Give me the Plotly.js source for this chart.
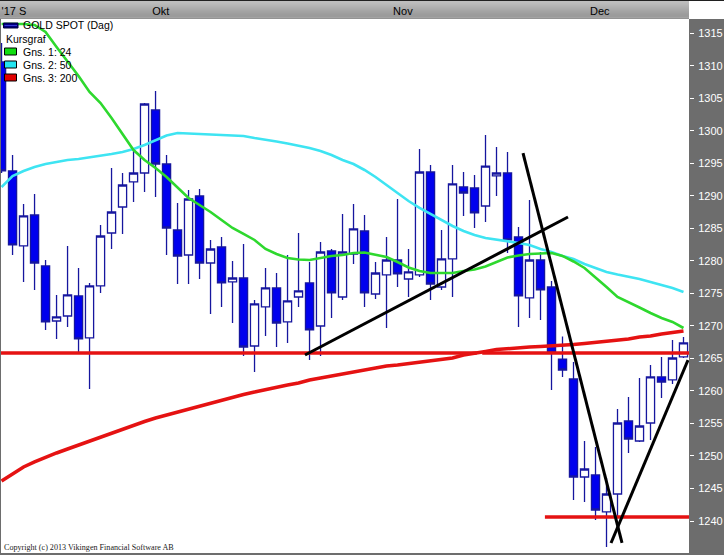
<!DOCTYPE html>
<html><head><meta charset="utf-8">
<script src="https://cdn.plot.ly/plotly-3.0.1.min.js"></script>
<style>html,body{margin:0;padding:0;background:#fff;overflow:hidden}#chart{width:724px;height:555px}</style>
</head><body><div id="chart"></div>
<script>
// ---- data ----
const openP  = [1310.59,1293.83,1282.30,1287.06,1279.22,1270.76,1271.53,1274.61,1268.15,1276.15,1284.29,1288.29,1292.14,1293.52,1303.21,1294.90,1284.75,1280.91,1289.98,1279.68,1282.14,1276.76,1277.37,1266.91,1272.92,1275.84,1270.61,1274.45,1276.61,1269.99,1281.52,1274.45,1281.06,1284.60,1274.91,1277.84,1280.14,1277.22,1277.84,1293.67,1275.99,1280.30,1291.37,1291.21,1288.44,1293.06,1293.52,1283.68,1274.30,1280.14,1275.99,1264.91,1261.84,1246.77,1247.08,1241.39,1244.15,1255.38,1252.30,1255.07,1262.15,1261.69,1265.23];
const highP  = [1313.51,1296.28,1288.75,1290.29,1280.14,1274.76,1282.30,1278.91,1276.61,1285.52,1294.29,1293.52,1297.21,1304.28,1306.13,1296.28,1288.91,1290.90,1291.06,1283.22,1283.68,1279.99,1282.60,1273.99,1278.91,1278.14,1280.91,1284.29,1279.83,1282.91,1281.83,1287.21,1288.75,1287.06,1279.83,1283.68,1289.52,1281.83,1297.21,1294.75,1284.75,1294.75,1293.67,1293.21,1299.36,1297.51,1296.74,1285.21,1289.37,1281.37,1276.91,1268.38,1264.45,1252.30,1251.38,1246.61,1257.22,1259.07,1262.00,1264.00,1265.23,1267.84,1268.30];
const lowP   = [1293.50,1280.91,1276.76,1275.53,1269.38,1268.00,1269.84,1266.00,1260.30,1275.07,1281.83,1284.14,1289.06,1290.60,1289.83,1280.91,1276.45,1276.45,1277.22,1271.84,1272.92,1270.45,1265.38,1262.91,1268.46,1266.76,1267.37,1272.92,1264.76,1265.38,1271.22,1273.99,1279.53,1272.92,1274.14,1269.69,1275.99,1274.45,1277.53,1273.99,1275.53,1274.45,1286.91,1285.06,1285.98,1289.98,1281.22,1269.84,1271.22,1270.91,1260.15,1262.15,1243.23,1242.92,1240.16,1236.00,1240.62,1250.46,1252.15,1252.46,1258.92,1261.07,1265.07];
const closeP = [1293.83,1282.45,1286.91,1279.68,1270.61,1271.38,1274.76,1268.00,1276.15,1283.83,1287.52,1291.67,1293.52,1304.13,1294.90,1285.06,1280.75,1289.52,1279.68,1281.83,1276.61,1277.37,1266.76,1273.38,1275.84,1270.45,1273.84,1275.38,1269.38,1281.37,1275.07,1281.37,1284.91,1275.07,1278.14,1280.14,1277.99,1278.30,1293.67,1276.45,1280.30,1291.83,1290.44,1287.37,1294.59,1293.52,1283.22,1274.61,1280.14,1275.53,1265.84,1263.22,1246.77,1248.00,1241.69,1244.15,1255.07,1252.61,1254.61,1262.15,1261.38,1265.07,1267.38];
const ma24   = [1316.43,1316.43,1316.43,1316.28,1315.20,1312.89,1310.74,1308.43,1305.97,1304.28,1301.97,1299.51,1297.05,1295.51,1294.28,1292.90,1291.36,1289.67,1288.60,1287.52,1286.29,1285.06,1284.14,1283.22,1281.83,1281.06,1280.45,1280.22,1280.14,1280.45,1280.76,1280.91,1281.22,1281.29,1280.98,1280.60,1279.83,1278.98,1278.45,1278.14,1278.14,1278.14,1278.45,1278.68,1279.14,1279.83,1280.52,1280.83,1281.06,1281.14,1281.22,1280.76,1279.91,1278.91,1277.52,1275.98,1274.45,1273.68,1272.83,1271.99,1271.22,1270.61,1269.68];
const ma50   = [1291.36,1293.06,1293.82,1294.44,1294.90,1295.21,1295.52,1295.67,1295.90,1296.13,1296.44,1296.75,1297.21,1297.82,1298.59,1299.28,1299.67,1299.59,1299.51,1299.44,1299.36,1299.36,1299.21,1298.90,1298.67,1298.36,1298.06,1297.75,1297.36,1296.90,1296.28,1295.52,1294.90,1293.98,1292.90,1291.67,1290.44,1289.21,1288.14,1287.21,1286.29,1285.37,1284.60,1283.99,1283.53,1283.29,1283.06,1282.76,1282.45,1281.83,1281.37,1280.76,1280.30,1279.53,1278.91,1278.30,1277.91,1277.60,1277.22,1276.76,1276.30,1275.84,1275.22];
const ma200  = [1246.15,1247.23,1248.31,1249.08,1249.84,1250.46,1251.07,1251.69,1252.30,1252.92,1253.53,1254.15,1254.76,1255.30,1255.84,1256.30,1256.76,1257.22,1257.69,1258.15,1258.61,1259.07,1259.45,1259.84,1260.22,1260.61,1260.92,1261.22,1261.68,1261.99,1262.30,1262.61,1262.91,1263.22,1263.53,1263.84,1263.99,1264.22,1264.45,1264.61,1264.84,1265.07,1265.53,1265.76,1266.07,1266.37,1266.53,1266.68,1266.76,1266.84,1266.91,1267.07,1267.14,1267.30,1267.45,1267.61,1267.76,1267.99,1268.30,1268.45,1268.76,1268.99,1269.22];
const dayIndex = openP.map((_, i) => i);

const upperLevel = 1265.84, upperLevelSegA = [-0.05, 43.2], upperLevelSegB = [43.7, 62.5];
const lowerLevel = 1240.62, lowerLevelSeg = [49.4, 62.5];
const trend1X = [27.59, 51.5],  trend1Y = [1265.53, 1286.75];
const trend2X = [47.41, 56.41], trend2Y = [1296.59, 1236.62];
const trend3X = [55.41, 62.41], trend3Y = [1236.62, 1264.76];

const monthTickPos = [0, 13.7, 35.6, 53.5];
const monthLabels  = ["'17 S", "Okt", "Nov", "Dec"];
const priceTicks   = [1240,1245,1250,1255,1260,1265,1270,1275,1280,1285,1290,1295,1300,1305,1310,1315];
const legendNames  = ["GOLD SPOT (Dag)", "Kursgraf", "Gns. 1: 24", "Gns. 2: 50", "Gns. 3: 200"];
const copyrightText = "Copyright (c) 2013 Vikingen Financial Software AB";

// ---- styling / layout helpers ----
const W = 724, H = 555, ML = 1, MR = 35, MT = 19, MB = 2;
const PW = W - ML - MR, PH = H - MT - MB;
const px = x => (x - ML) / PW;
const py = y => (H - MB - y) / PH;
const SANS = 'Liberation Sans, Arial, sans-serif';

const cBlueLine = '#16169e', cBlueFill = '#0000ee';
const cGreen = '#2ed82e', cCyan = '#3ee4f2', cRed = '#e51212';

const traces = [
  {type:'candlestick', x:dayIndex, open:openP, high:highP, low:lowP, close:closeP,
   increasing:{line:{color:cBlueLine, width:1.3}, fillcolor:'#ffffff'},
   decreasing:{line:{color:cBlueLine, width:1.3}, fillcolor:cBlueFill},
   whiskerwidth:0, showlegend:false, hoverinfo:'skip'},
  {type:'scatter', mode:'lines', x:dayIndex, y:ma200, line:{color:cRed, width:3.5}, hoverinfo:'skip', showlegend:false},
  {type:'scatter', mode:'lines', x:upperLevelSegA, y:[upperLevel, upperLevel], line:{color:cRed, width:3.5}, hoverinfo:'skip', showlegend:false},
  {type:'scatter', mode:'lines', x:upperLevelSegB, y:[upperLevel, upperLevel], line:{color:cRed, width:3.5}, hoverinfo:'skip', showlegend:false},
  {type:'scatter', mode:'lines', x:lowerLevelSeg, y:[lowerLevel, lowerLevel], line:{color:cRed, width:3.5}, hoverinfo:'skip', showlegend:false},
  {type:'scatter', mode:'lines', x:dayIndex, y:ma50, line:{color:cCyan, width:2.6}, hoverinfo:'skip', showlegend:false},
  {type:'scatter', mode:'lines', x:dayIndex, y:ma24, line:{color:cGreen, width:2.6}, hoverinfo:'skip', showlegend:false},
  {type:'scatter', mode:'lines', x:trend1X, y:trend1Y, line:{color:'#000', width:3}, hoverinfo:'skip', showlegend:false},
  {type:'scatter', mode:'lines', x:trend2X, y:trend2Y, line:{color:'#000', width:3}, hoverinfo:'skip', showlegend:false},
  {type:'scatter', mode:'lines', x:trend3X, y:trend3Y, line:{color:'#000', width:3}, hoverinfo:'skip', showlegend:false}
];

const shapes = [];
// header gradient bar
const headerShades = [218,218,216,212,208,204,200,196,192,188,184,180,177,174,171,170,172,186];
for (let r = 0; r < headerShades.length; r++) {
  const g = headerShades[r];
  shapes.push({type:'rect', xref:'paper', yref:'paper', x0:px(0), x1:px(689), y0:py(r+1+0.5), y1:py(r+0.5),
    fillcolor:`rgb(${g},${g},${g})`, line:{width:0}, layer:'below'});
}
shapes.push({type:'rect', xref:'paper', yref:'paper', x0:px(689), x1:px(724), y0:py(19), y1:py(0),
  fillcolor:'#ffffff', line:{width:0}, layer:'below'});
shapes.push({type:'line', xref:'paper', yref:'paper', x0:px(0), x1:px(724), y0:py(0.5), y1:py(0.5),
  line:{color:'#202020', width:1.2}});
// legend swatches
shapes.push({type:'rect', xref:'paper', yref:'paper', x0:px(3.5), x1:px(18), y0:py(28), y1:py(23),
  fillcolor:'#000080', line:{color:'#00003a', width:1}});
shapes.push({type:'line', xref:'paper', yref:'paper', x0:px(4.5), x1:px(17), y0:py(25.5), y1:py(25.5),
  line:{color:'#3a3ad8', width:1}});
const swatchFill = ['#11dd11', '#22e4f0', '#e00000'], swatchY = [51.5, 64.5, 77.5];
swatchFill.forEach((c, k) => shapes.push({type:'rect', xref:'paper', yref:'paper', x0:px(4.5), x1:px(16.5),
  y0:py(swatchY[k]+3.5), y1:py(swatchY[k]-3.5), fillcolor:c, line:{color:'#000', width:1}}));

const annotations = [];
const legY = [25.5, 39, 52, 65, 78], legX = [21, 3.5, 21, 21, 21];
legendNames.forEach((t, k) => annotations.push({xref:'paper', yref:'paper', x:px(legX[k]), y:py(legY[k]),
  xanchor:'left', yanchor:'middle', text:t, showarrow:false, font:{family:SANS, size:10.5, color:'#000'}}));
annotations.push({xref:'paper', yref:'paper', x:px(2), y:py(547.5), xanchor:'left', yanchor:'middle',
  text:copyrightText, showarrow:false, font:{family:'Liberation Serif, Times New Roman, serif', size:8.1, color:'#1a1a1a'}});

const layout = {
  width:W, height:H, margin:{l:ML, r:MR, t:MT, b:MB, pad:0},
  paper_bgcolor:'#6d6d6d', plot_bgcolor:'#ffffff',
  showlegend:false, boxgap:0.26, boxgroupgap:0, dragmode:false,
  xaxis:{range:[-0.05, 62.5], side:'top', rangeslider:{visible:false}, showgrid:false, zeroline:false, showline:false,
    ticks:'', tickmode:'array', tickvals:monthTickPos, ticktext:monthLabels, ticklabelposition:'outside right',
    ticklabelstandoff:1, tickfont:{family:SANS, size:11, color:'#000'}, fixedrange:true},
  yaxis:{range:[1235.08, 1317.2], side:'right', showgrid:false, zeroline:false, showline:false,
    tickmode:'array', tickvals:priceTicks, ticks:'outside', ticklen:4, tickwidth:1, tickcolor:'#ffffff',
    ticklabelstandoff:2, tickfont:{family:SANS, size:11, color:'#ffffff'}, fixedrange:true},
  shapes, annotations
};
Plotly.newPlot('chart', traces, layout, {displayModeBar:false, staticPlot:true});
</script></body></html>
